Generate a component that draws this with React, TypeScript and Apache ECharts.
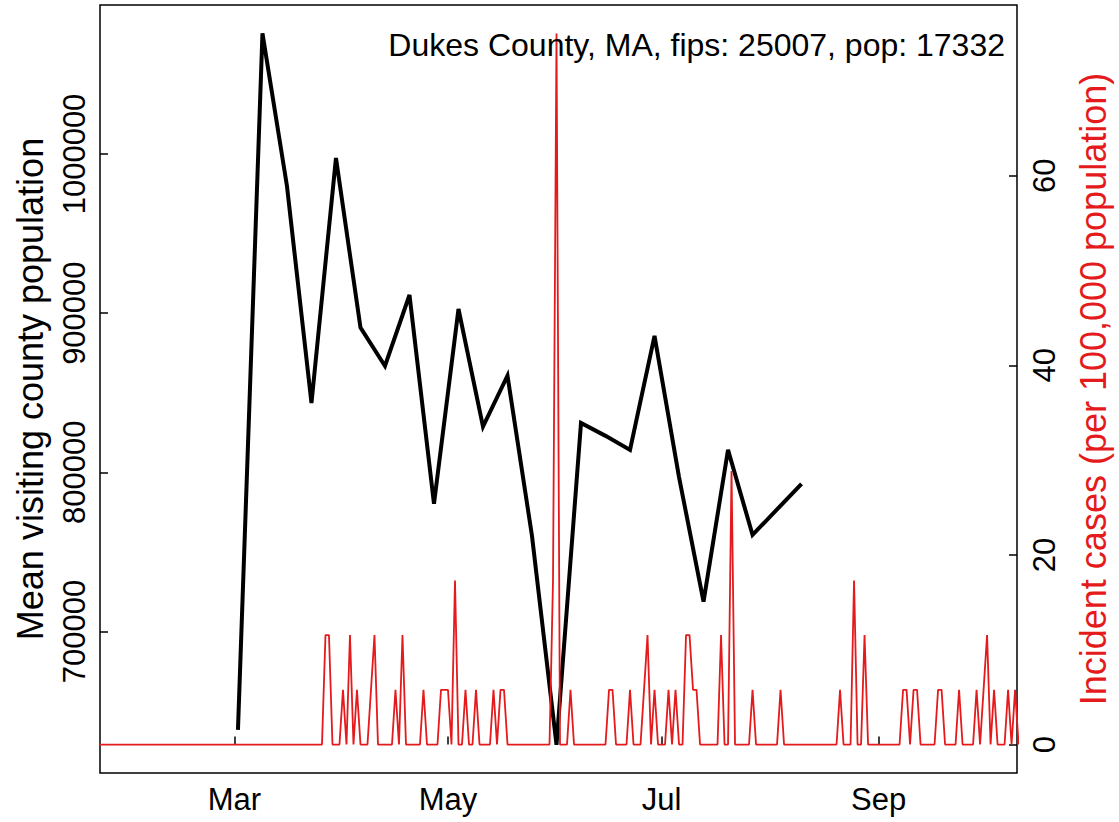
import React, { useEffect, useRef } from "react";
import * as echarts from "echarts";

const TITLE = "Dukes County, MA, fips: 25007, pop: 17332";
const POPULATION = 17332;

// Weekly mean visiting county population (black line)
const weekDates = [
  "2020-03-02", "2020-03-09", "2020-03-16", "2020-03-23", "2020-03-30", "2020-04-06",
  "2020-04-13", "2020-04-20", "2020-04-27", "2020-05-04", "2020-05-11", "2020-05-18",
  "2020-05-25", "2020-06-01", "2020-06-08", "2020-06-15", "2020-06-22", "2020-06-29",
  "2020-07-06", "2020-07-13", "2020-07-20", "2020-07-27", "2020-08-03", "2020-08-10",
];
const meanVisitingPop = [
  638200, 1075800, 979900, 843600, 997500, 890900,
  866800, 911400, 780200, 902600, 828700, 860700,
  760000, 628800, 831000, 822900, 814100, 885700,
  797000, 718800, 814100, 760700, 776700, 792700,
];

// Daily new cases (counts), starting 2020-01-22 (red line, shown per 100,000)
const caseStartDate = "2020-01-22";
const dailyCases = [
  0, 0, 0, 0, 0, 0, 0, 0, 0, 0,
  0, 0, 0, 0, 0, 0, 0, 0, 0, 0,
  0, 0, 0, 0, 0, 0, 0, 0, 0, 0,
  0, 0, 0, 0, 0, 0, 0, 0, 0, 0,
  0, 0, 0, 0, 0, 0, 0, 0, 0, 0,
  0, 0, 0, 0, 0, 0, 0, 0, 0, 0,
  0, 0, 0, 0, 0, 2, 2, 0, 0, 0,
  1, 0, 2, 0, 1, 0, 0, 0, 1, 2,
  0, 0, 0, 0, 0, 1, 0, 2, 0, 0,
  0, 0, 0, 1, 0, 0, 0, 0, 1, 1,
  1, 0, 3, 0, 0, 1, 0, 0, 1, 0,
  0, 0, 0, 1, 0, 1, 1, 0, 0, 0,
  0, 0, 0, 0, 0, 0, 0, 0, 0, 0,
  3, 13, 0, 0, 0, 1, 0, 0, 0, 0,
  0, 0, 0, 0, 0, 0, 1, 1, 0, 0,
  0, 0, 1, 0, 0, 0, 1, 2, 0, 1,
  0, 0, 0, 1, 0, 1, 0, 0, 2, 2,
  1, 1, 0, 0, 0, 0, 0, 0, 2, 0,
  0, 5, 0, 0, 0, 0, 0, 1, 0, 0,
  0, 0, 0, 0, 0, 1, 0, 0, 0, 0,
  0, 0, 0, 0, 0, 0, 0, 0, 0, 0,
  0, 0, 1, 0, 0, 0, 3, 0, 0, 2,
  0, 0, 0, 0, 0, 0, 0, 0, 0, 0,
  1, 1, 0, 1, 1, 0, 0, 0, 0, 0,
  1, 1, 0, 0, 0, 0, 1, 0, 0, 0,
  0, 1, 0, 1, 2, 0, 1, 0, 0, 0,
  1, 0, 1, 0,
];

const monthTickDates = ["2020-03-01", "2020-05-01", "2020-07-01", "2020-09-01"];
const monthTickLabels = ["Mar", "May", "Jul", "Sep"];
const leftTicks = [700000, 800000, 900000, 1000000];
const rightTicks = [0, 20, 40, 60];

const FONT = '"Liberation Sans", Arial, Helvetica, sans-serif';
const RED = "#E41A1C";

function dayNum(s: string): number {
  const [y, m, d] = s.split("-").map(Number);
  return (Date.UTC(y, m - 1, d) - Date.UTC(2020, 0, 1)) / 86400000;
}

export default function App() {
  const ref = useRef<HTMLDivElement>(null);

  useEffect(() => {
    document.body.style.margin = "0";
    document.body.style.overflow = "hidden";
    if (!ref.current) return;
    const chart = echarts.init(ref.current, undefined, { renderer: "svg" });

    const blackData = weekDates.map((d, i) => [dayNum(d), meanVisitingPop[i]]);
    const start = dayNum(caseStartDate);
    const redData = dailyCases.map((c, i) => [start + i, (c * 100000) / POPULATION]);
    const tickDays = monthTickDates.map(dayNum);

    const tickLabelStyle = { color: "#000", fontSize: 31, fontFamily: FONT };

    chart.setOption({
      animation: false,
      backgroundColor: "#fff",
      grid: {
        left: 100,
        top: 5,
        width: 921,
        height: 768,
        show: true,
        borderColor: "#000",
        borderWidth: 1.5,
        backgroundColor: "transparent",
      },
      xAxis: {
        type: "value",
        min: 21.59,
        max: 283.55,
        axisLine: { show: false },
        splitLine: { show: false },
        axisTick: {
          show: true,
          inside: true,
          length: 8,
          customValues: tickDays,
          lineStyle: { color: "#000", width: 1.5 },
        },
        axisLabel: {
          ...tickLabelStyle,
          margin: 11,
          customValues: tickDays,
          formatter: (v: number) => {
            const i = tickDays.indexOf(v);
            return i >= 0 ? monthTickLabels[i] : "";
          },
        },
      },
      yAxis: [
        {
          type: "value",
          position: "left",
          min: 611100,
          max: 1093600,
          axisLine: { show: false },
          splitLine: { show: false },
          axisTick: {
            show: true,
            inside: true,
            length: 8,
            customValues: leftTicks,
            lineStyle: { color: "#000", width: 1.5 },
          },
          axisLabel: {
            ...tickLabelStyle,
            rotate: 90,
            margin: 10,
            customValues: leftTicks,
            formatter: (v: number) => String(v),
          },
          name: "Mean visiting county population",
          nameLocation: "middle",
          nameRotate: 90,
          nameGap: 52,
          nameTextStyle: { color: "#000", fontSize: 36, fontFamily: FONT },
        },
        {
          type: "value",
          position: "right",
          min: -3,
          max: 78,
          axisLine: { show: false },
          splitLine: { show: false },
          axisTick: {
            show: true,
            inside: true,
            length: 8,
            customValues: rightTicks,
            lineStyle: { color: "#000", width: 1.5 },
          },
          axisLabel: {
            ...tickLabelStyle,
            rotate: 90,
            margin: 12,
            customValues: rightTicks,
            formatter: (v: number) => String(v),
          },
          name: "Incident cases (per 100,000 population)",
          nameLocation: "middle",
          nameRotate: 90,
          nameGap: 58,
          nameTextStyle: { color: RED, fontSize: 36, fontFamily: FONT },
        },
      ],
      graphic: [
        {
          type: "text",
          x: 1005,
          y: 45,
          style: {
            text: TITLE,
            align: "right",
            verticalAlign: "middle",
            fill: "#000",
            fontSize: 32,
            fontFamily: FONT,
          },
          z: 100,
        },
      ],
      series: [
        {
          type: "line",
          yAxisIndex: 0,
          data: blackData,
          showSymbol: false,
          symbol: "none",
          lineStyle: { color: "#000", width: 4, join: "miter" },
          z: 2,
        },
        {
          type: "line",
          yAxisIndex: 1,
          data: redData,
          showSymbol: false,
          symbol: "none",
          lineStyle: { color: RED, width: 1.8 },
          z: 3,
        },
      ],
    });

    return () => chart.dispose();
  }, []);

  return <div ref={ref} style={{ width: 1119, height: 822 }} />;
}
